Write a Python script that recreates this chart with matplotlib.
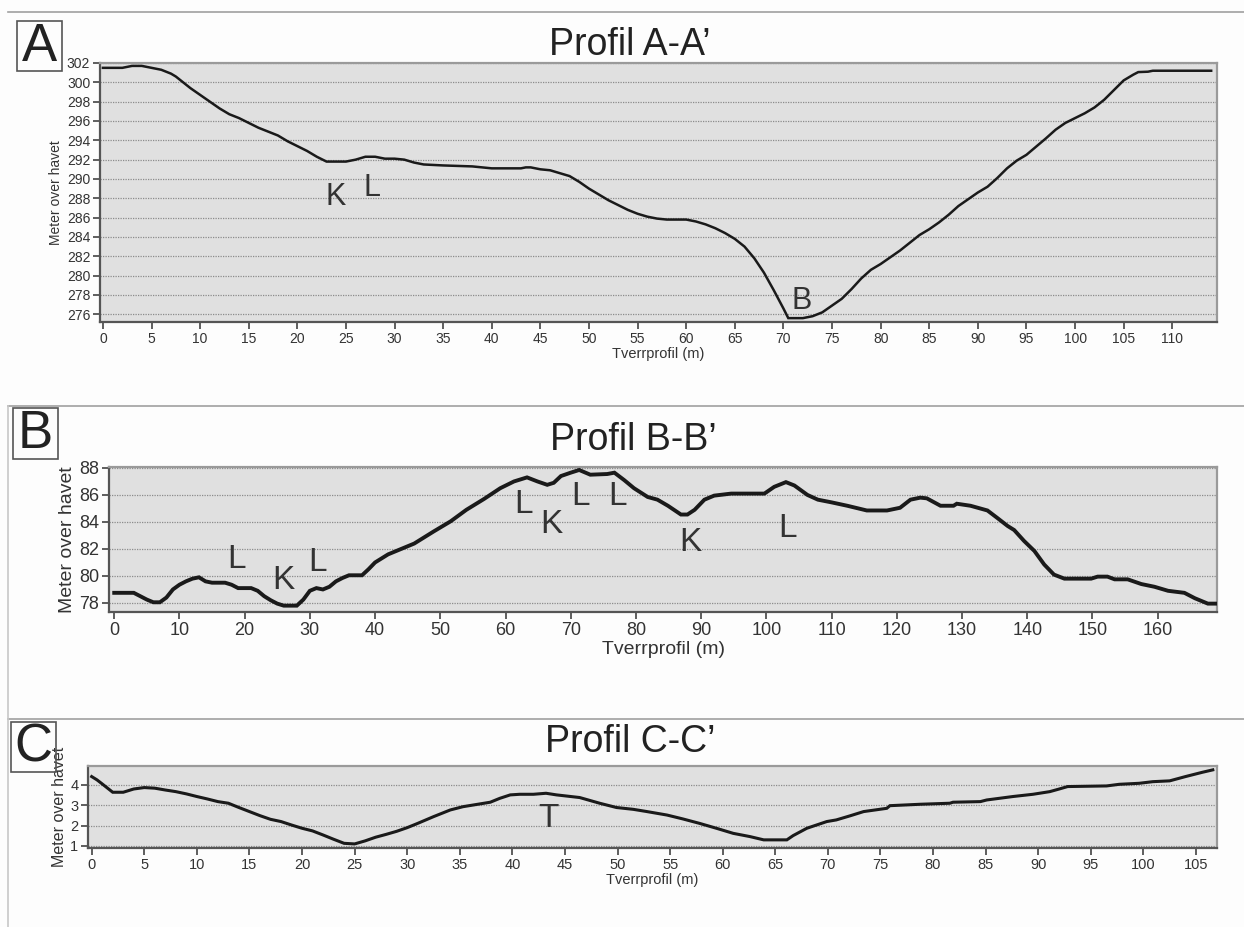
import matplotlib
matplotlib.use("Agg")
import matplotlib.pyplot as plt
from matplotlib.lines import Line2D

plt.rcParams['font.family'] = ['Liberation Sans', 'DejaVu Sans']

W, H = 1244, 927

# Profil A-A'
a_x = [0, 2, 3, 4, 5, 6, 7, 7.5, 8, 9, 10, 11, 12, 12.5, 13, 14, 15, 16, 17, 18, 19, 20,
       21, 22, 23, 24, 25, 26, 27, 28, 29, 30, 31, 32, 33, 35, 38, 40, 43, 43.5, 44, 45,
       46, 47, 48, 49, 50, 51, 52, 53, 54, 55, 56, 57, 58, 60, 61, 62, 63, 64, 65, 66,
       67, 68, 69, 70, 70.5, 72, 73, 74, 75, 76, 77, 78, 79, 80, 81, 82, 83, 84, 85, 86,
       87, 88, 89, 90, 91, 92, 93, 94, 95, 96, 97, 98, 99, 100, 101, 102, 103, 104, 105,
       106, 106.5, 107.5, 108, 114]
a_y = [301.5, 301.5, 301.7, 301.7, 301.5, 301.3, 300.9, 300.6, 300.2, 299.4, 298.7, 298.0,
       297.3, 297.0, 296.7, 296.3, 295.8, 295.3, 294.9, 294.5, 293.9, 293.4, 292.9, 292.3,
       291.8, 291.8, 291.8, 292.0, 292.3, 292.3, 292.1, 292.1, 292.0, 291.7, 291.5, 291.4,
       291.3, 291.1, 291.1, 291.2, 291.2, 291.0, 290.9, 290.6, 290.3, 289.7, 289.0, 288.4,
       287.8, 287.3, 286.8, 286.4, 286.1, 285.9, 285.8, 285.8, 285.6, 285.3, 284.9, 284.4,
       283.8, 283.0, 281.8, 280.3, 278.5, 276.6, 275.6, 275.6, 275.8, 276.2, 276.9, 277.6,
       278.6, 279.7, 280.6, 281.2, 281.9, 282.6, 283.4, 284.2, 284.8, 285.5, 286.3, 287.2,
       287.9, 288.6, 289.2, 290.1, 291.1, 291.9, 292.5, 293.35, 294.2, 295.1, 295.8, 296.3,
       296.8, 297.4, 298.2, 299.2, 300.2, 300.8, 301.06, 301.1, 301.2, 301.2]

# Profil B-B'
b_x = [0, 3, 4, 5, 6, 7, 8, 9, 10, 11, 12, 13, 14, 15, 17, 18, 19, 21, 22, 23, 24, 25, 26,
       28, 29, 30, 31, 32, 33, 34, 35, 36, 38, 39, 40, 41, 42, 43, 44, 45, 46, 47, 49, 51.6,
       54, 56.7, 59.2, 61.3, 63.3, 64.9, 66.4, 67.4, 68.5, 70, 71.3, 73, 75.6, 76.7, 78.2,
       79.7, 81.8, 83.3, 84.9, 86.9, 87.9, 89, 90.5, 92, 94.6, 99.7, 101.2, 103, 104.3,
       106.3, 107.9, 110, 112.4, 115.4, 118.5, 120.5, 122.1, 123.6, 124.6, 126.7, 128.7,
       129.2, 131.3, 133.9, 135.4, 137, 138, 139.5, 141.1, 142.6, 144.1, 145.7, 149.8,
       150.8, 152.3, 153.4, 155.4, 157.5, 159.5, 161.6, 164.1, 165.7, 167.7, 168.8]
b_y = [78.75, 78.75, 78.5, 78.25, 78.05, 78.05, 78.4, 79.0, 79.35, 79.6, 79.8, 79.9, 79.6,
       79.5, 79.5, 79.35, 79.1, 79.1, 78.9, 78.5, 78.2, 77.95, 77.8, 77.8, 78.25, 78.9, 79.1,
       79.0, 79.2, 79.6, 79.85, 80.05, 80.05, 80.5, 81.0, 81.3, 81.6, 81.8, 82.0, 82.2, 82.4,
       82.7, 83.3, 84.05, 84.9, 85.7, 86.5, 87.0, 87.3, 87.0, 86.75, 86.9, 87.4, 87.65,
       87.85, 87.5, 87.55, 87.65, 87.1, 86.5, 85.85, 85.65, 85.2, 84.55, 84.55, 84.9, 85.65,
       85.95, 86.1, 86.1, 86.6, 86.95, 86.7, 86.0, 85.65, 85.45, 85.2, 84.85, 84.85, 85.05,
       85.65, 85.8, 85.75, 85.2, 85.2, 85.35, 85.2, 84.85, 84.3, 83.7, 83.4, 82.6, 81.85,
       80.85, 80.1, 79.8, 79.8, 79.95, 79.95, 79.75, 79.75, 79.4, 79.2, 78.9, 78.75, 78.35,
       77.95, 77.95]

# Profil C-C'
c_x = [0, 0.5, 1, 2, 3, 4, 5, 6, 7, 8, 9, 10, 11, 12, 13, 14, 15, 16, 17, 18, 19, 20, 21,
       22, 23, 24, 25, 26, 27, 28, 29, 30, 31, 32.5, 34.1, 35.3, 37.9, 38.8, 39.8, 40.7, 42,
       43.2, 44.2, 46.4, 48.3, 49.9, 51.5, 52.8, 54.7, 56.2, 57.8, 59.4, 61, 62.6, 63.9,
       66.1, 66.7, 68, 69.9, 70.8, 72.1, 73.4, 75.6, 75.9, 78.8, 81.6, 81.9, 84.5, 85.1,
       87.6, 89.5, 91.1, 92, 92.8, 96.5, 97.7, 99.6, 100.9, 102.5, 104, 105.6, 106.6]
c_y = [4.41, 4.25, 4.05, 3.64, 3.64, 3.8, 3.87, 3.84, 3.75, 3.67, 3.56, 3.43, 3.31, 3.18,
       3.1, 2.89, 2.69, 2.49, 2.31, 2.2, 2.03, 1.87, 1.74, 1.54, 1.33, 1.13, 1.1, 1.25, 1.43,
       1.57, 1.72, 1.9, 2.11, 2.44, 2.77, 2.93, 3.15, 3.34, 3.51, 3.54, 3.54, 3.59, 3.51,
       3.38, 3.1, 2.89, 2.8, 2.69, 2.52, 2.33, 2.11, 1.87, 1.62, 1.46, 1.3, 1.3, 1.51, 1.87,
       2.2, 2.28, 2.48, 2.69, 2.85, 2.98, 3.05, 3.1, 3.15, 3.18, 3.26, 3.43, 3.54, 3.67, 3.8,
       3.92, 3.95, 4.03, 4.08, 4.16, 4.2, 4.41, 4.62, 4.74]

a_labels = [("K", 23.9, 288.1), ("L", 27.7, 289.1), ("B", 71.9, 277.4)]
b_labels = [("L", 18.8, 81.2), ("K", 25.9, 79.7), ("L", 31.1, 81.0), ("L", 62.7, 85.3),
            ("K", 67.1, 83.8), ("L", 71.5, 85.9), ("L", 77.1, 85.9), ("K", 88.3, 82.5),
            ("L", 103.3, 83.5)]
c_labels = [("T", 43.4, 2.37)]


def rect(left, top, right, bottom):
    return [left / W, 1 - bottom / H, (right - left) / W, (bottom - top) / H]


def fx(x):
    return x / W


def fy(y):
    return 1 - y / H


def make_panel(fig, box, xs, ys, xlim, ylim, xticks, yticks, lw, tick_fs, lab_fs, labels, ann_fs):
    ax = fig.add_axes(box)
    ax.set_facecolor('#e0e0e0')
    ax.plot(xs, ys, color='#1a1a1a', lw=lw, solid_joinstyle='miter', zorder=3)
    ax.set_xlim(*xlim)
    ax.set_ylim(*ylim)
    ax.set_xticks(xticks)
    ax.set_yticks(yticks)
    ax.grid(axis='y', linestyle=(0, (1, 1)), color='#8c8c8c', lw=0.9)
    ax.tick_params(direction='out', length=5, width=1.2, colors='#444444',
                   labelsize=tick_fs, labelcolor='#333333', pad=2)
    for s in ['left', 'bottom']:
        ax.spines[s].set_color('#555555')
        ax.spines[s].set_linewidth(1.6)
    for s in ['top', 'right']:
        ax.spines[s].set_color('#9a9a9a')
        ax.spines[s].set_linewidth(1.6)
    for t, x, y in labels:
        ax.text(x, y, t, fontsize=ann_fs, color='#333333', ha='center', va='center', zorder=4)
    return ax


fig = plt.figure(figsize=(W / 100, H / 100), dpi=100)
fig.patch.set_facecolor('#fdfdfd')

# panel frames
for y in [12, 406, 719]:
    fig.add_artist(Line2D([fx(8), 1], [fy(y), fy(y)], color='#a0a0a0', lw=1.2))
fig.add_artist(Line2D([fx(8), fx(8)], [fy(406), 0], color='#c8c8c8', lw=1.2))

# A
axa = make_panel(fig, rect(100, 63, 1217, 322), a_x, a_y, (-0.3, 114.6), (275.2, 302),
                 range(0, 111, 5), range(276, 303, 2), 1.8, 10, 10, a_labels, 22)
axa.set_ylabel("Meter over havet", fontsize=10, color='#333333', labelpad=3)
axa.set_xlabel("Tverrprofil (m)", fontsize=10.5, color='#333333', labelpad=1)

# B
axb = make_panel(fig, rect(109, 467, 1217, 612), b_x, b_y, (-0.8, 169.1), (77.33, 88.07),
                 range(0, 161, 10), range(78, 89, 2), 2.8, 13, 14, b_labels, 24)
axb.set_ylabel("Meter over havet", fontsize=14, color='#333333', labelpad=2)
axb.set_xlabel("Tverrprofil (m)", fontsize=14, color='#333333', labelpad=2)

# C
axc = make_panel(fig, rect(88, 766, 1217, 848), c_x, c_y, (-0.35, 107), (0.9, 4.93),
                 range(0, 106, 5), [1, 2, 3, 4], 2.2, 10.5, 11, c_labels, 24)
axc.set_ylabel("Meter over havet", fontsize=11.5, color='#333333', labelpad=2)
axc.set_xlabel("Tverrprofil (m)", fontsize=10.5, color='#333333', labelpad=1)

# titles
fig.text(fx(630), fy(45), "Profil A-A\u2019", fontsize=27, ha='center', va='center', color='#222222')
fig.text(fx(633), fy(440), "Profil B-B\u2019", fontsize=27, ha='center', va='center', color='#222222')
fig.text(fx(630), fy(742), "Profil C-C\u2019", fontsize=27, ha='center', va='center', color='#222222')

# panel letters
for t, x0, y0, x1, y1 in [("A", 17, 21, 62, 71), ("B", 13, 408, 58, 459), ("C", 11, 722, 56, 772)]:
    fig.add_artist(plt.Rectangle((fx(x0), fy(y1)), (x1 - x0) / W, (y1 - y0) / H,
                                 fill=False, ec='#555555', lw=1.2))
    fig.text(fx((x0 + x1) / 2), fy((y0 + y1) / 2 + 1), t, fontsize=38, ha='center',
             va='center', color='#222222')

fig.savefig("out.png", dpi=100, facecolor=fig.get_facecolor())
plt.close(fig)
